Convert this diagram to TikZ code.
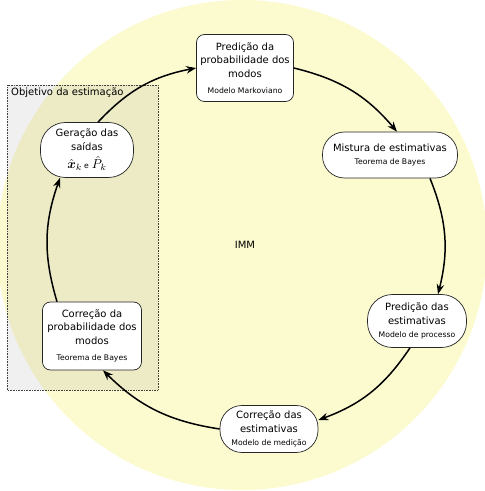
\documentclass[tikz,border=0pt]{standalone}
\usepackage{amsmath}
\usepackage{fontspec}
\setmainfont{DejaVu Sans}
\usetikzlibrary{arrows.meta}
\definecolor{ringfill}{RGB}{252,250,207}
\newcommand\mainsize{\fontsize{10}{13.5}\selectfont}
\newcommand\subsize{\fontsize{7.7}{9}\selectfont}
\newcommand\bigsym[1]{\scalebox{1.3}{$#1$}}
\tikzset{
  stage/.style={draw=black!85, fill=white, line width=0.7pt, align=center,
                inner sep=2pt, font=\mainsize},
  flow/.style={line width=1.5pt, -{Stealth[length=10pt,width=7.5pt]}, bend left=18},
}
\begin{document}
\begin{tikzpicture}[x=1pt,y=1pt]
  \useasboundingbox (0,0) rectangle (485,491);
  \clip (0,0) rectangle (485,491);

  % background disc of the IMM cycle
  \fill[ringfill] (242,246) circle[radius=245];

  % region holding the estimator outputs
  \draw[densely dotted, draw=black!75, line width=0.6pt, fill=gray, fill opacity=0.12]
    (7,101) rectangle (158,406);
  \node[anchor=west, font=\mainsize, inner sep=0pt] (goal) at (11,398) {Objetivo da estimação};

  \node[font=\mainsize] (imm) at (245,246) {IMM};

  % stages of the cycle
  \node[stage, rounded corners=8pt, minimum width=97pt, minimum height=67pt] (modepred) at (245,423)
    {Predição da\\probabilidade dos\\modos\\[3pt]{\subsize Modelo Markoviano}};
  \node[stage, rounded corners=22pt, minimum width=135pt, minimum height=46pt] (mixing) at (390,336)
    {Mistura de estimativas\\{\subsize Teorema de Bayes}};
  \node[stage, rounded corners=25pt, minimum width=99pt, minimum height=53pt] (statepred) at (417,170)
    {Predição das\\estimativas\\{\subsize Modelo de processo}};
  \node[stage, rounded corners=22pt, minimum width=98pt, minimum height=47pt] (statecorr) at (269,62)
    {Correção das\\estimativas\\{\subsize Modelo de medição}};
  \node[stage, rounded corners=8pt, minimum width=99pt, minimum height=68pt] (modecorr) at (92,155)
    {Correção da\\probabilidade dos\\modos\\[3pt]{\subsize Teorema de Bayes}};
  \node[stage, rounded corners=25pt, minimum width=93pt, minimum height=55pt, inner sep=1pt] (output) at (87,341)
    {Geração das\\saídas\\[5pt]\bigsym{\hat{\boldsymbol{x}}_k}\hspace{2pt}{\subsize e}\hspace{3pt}\bigsym{\hat{P}_k}};

  % cycle connectors
  \draw[flow] ([xshift=11pt]output.north) to (modepred.west);
  \draw[flow] (modepred.east) to ([xshift=7pt]mixing.north);
  \draw[flow] ([xshift=40pt]mixing.south) to ([xshift=21pt]statepred.north);
  \draw[flow] ([xshift=-7pt]statepred.south) to ([yshift=9pt]statecorr.east);
  \draw[flow] (statecorr.west) to ([xshift=11pt]modecorr.south);
  \draw[flow] ([xshift=-35pt]modecorr.north) to ([xshift=-27pt]output.south);
\end{tikzpicture}
\end{document}
